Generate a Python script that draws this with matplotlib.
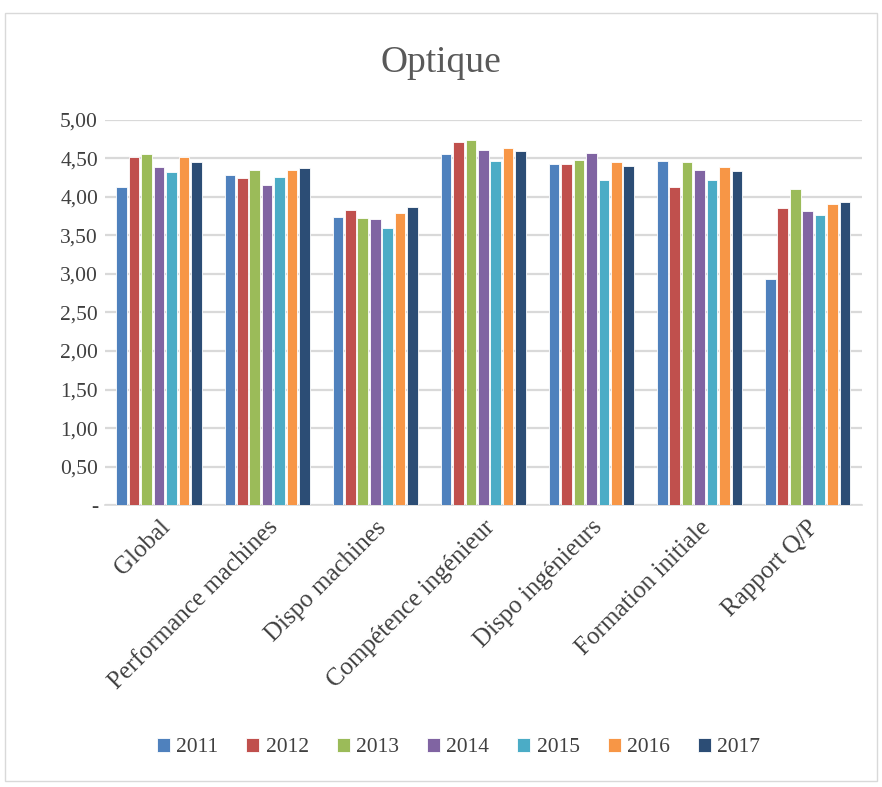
import numpy as np
import matplotlib.pyplot as plt
from matplotlib.patches import Rectangle

#---Data---
categories = ['Global', 'Performance machines', 'Dispo machines', 'Compétence ingénieur',
              'Dispo ingénieurs', 'Formation initiale', 'Rapport Q/P']
years = ['2011', '2012', '2013', '2014', '2015', '2016', '2017']
v2011 = [4.13, 4.28, 3.74, 4.55, 4.43, 4.47, 2.94]
v2012 = [4.52, 4.24, 3.83, 4.71, 4.42, 4.12, 3.85]
v2013 = [4.55, 4.35, 3.73, 4.73, 4.48, 4.45, 4.10]
v2014 = [4.38, 4.15, 3.71, 4.61, 4.57, 4.35, 3.82]
v2015 = [4.32, 4.26, 3.59, 4.47, 4.22, 4.22, 3.76]
v2016 = [4.51, 4.35, 3.79, 4.63, 4.45, 4.38, 3.90]
v2017 = [4.45, 4.37, 3.87, 4.59, 4.40, 4.33, 3.93]
series = [v2011, v2012, v2013, v2014, v2015, v2016, v2017]
colors = ['#4F81BD', '#C0504D', '#9BBB59', '#8064A2', '#4BACC6', '#F79646', '#2C4D75']

#---Plot---
plt.rcParams['font.family'] = ['Liberation Serif', 'DejaVu Serif']
fig = plt.figure(figsize=(8.82, 7.87), dpi=100)
fig.patches.append(Rectangle((0.006, 0.008), 0.988, 0.976, transform=fig.transFigure,
                             fill=False, edgecolor='#D9D9D9', linewidth=1))
ax = fig.add_axes([0.119, 0.358, 0.858, 0.490])

x = np.arange(len(categories))
slot = 0.115
width = 0.098
for i, (vals, col) in enumerate(zip(series, colors)):
    ax.bar(x + (i - 3) * slot, vals, width, color=col, edgecolor='white',
           linewidth=0.6, label=years[i], zorder=3)

ax.set_ylim(0, 5)
ax.set_xlim(-0.5, len(categories) - 0.5)
yt = np.arange(0, 5.01, 0.5)
ax.set_yticks(yt)
ax.set_yticklabels(['-'] + [('%.2f' % v).replace('.', ',') for v in yt[1:]],
                   fontsize=15.5, color='#404040')
ax.yaxis.grid(True, color='#D9D9D9', linewidth=1.6, zorder=0)
ax.set_xticks(x)
ax.set_xticklabels(categories, rotation=45, ha='right', rotation_mode='anchor',
                   fontsize=18, color='#404040')
ax.tick_params(axis='y', length=0, pad=5)
ax.tick_params(axis='x', length=0, pad=8)
for s in ['top', 'right', 'left']:
    ax.spines[s].set_visible(False)
ax.spines['bottom'].set_color('#D9D9D9')
ax.spines['bottom'].set_linewidth(1.2)

fig.text(0.5, 0.92, 'Optique', ha='center', va='center', fontsize=27, color='#595959')

fig.legend(loc='center', bbox_to_anchor=(0.52, 0.05), ncol=7, frameon=False,
           fontsize=15.5, handlelength=0.6, handleheight=0.6, handletextpad=0.3,
           columnspacing=1.3, labelcolor='#404040')

plt.savefig('out.png', dpi=100)
